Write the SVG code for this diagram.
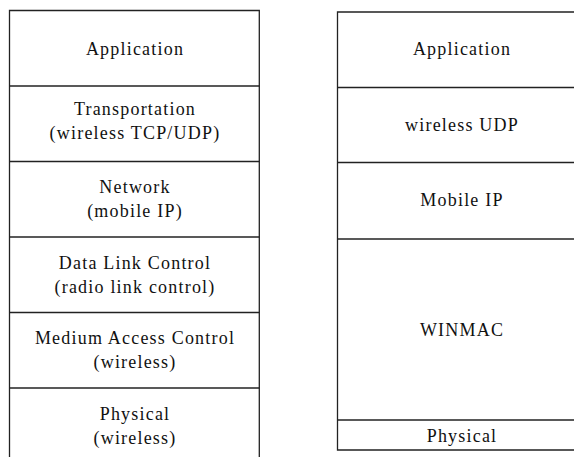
<svg xmlns="http://www.w3.org/2000/svg" width="574" height="457" viewBox="0 0 574 457">
<style>
.b{fill:none;stroke:#222;stroke-width:1.3}
.t{font-size:18px;letter-spacing:1.2px;fill:#111;text-anchor:middle}
</style>
<rect width="574" height="457" fill="#fff"/>
<g font-family="'Liberation Serif', 'Times New Roman', 'DejaVu Serif', serif">
<g id="left-stack">
<path class="b" d="M9.5 457V10.5H259.3V457"/>
<g id="l-app"><line class="b" x1="9.5" y1="86" x2="259.3" y2="86"/><text class="t" x="135" y="55">Application</text></g>
<g id="l-transport"><line class="b" x1="9.5" y1="161.5" x2="259.3" y2="161.5"/><text class="t" x="135" y="115">Transportation</text><text class="t" x="135" y="139">(wireless TCP/UDP)</text></g>
<g id="l-network"><line class="b" x1="9.5" y1="237" x2="259.3" y2="237"/><text class="t" x="135" y="193">Network</text><text class="t" x="135" y="217">(mobile IP)</text></g>
<g id="l-dlc"><line class="b" x1="9.5" y1="312.5" x2="259.3" y2="312.5"/><text class="t" x="135" y="269">Data Link Control</text><text class="t" x="135" y="293">(radio link control)</text></g>
<g id="l-mac"><line class="b" x1="9.5" y1="388" x2="259.3" y2="388"/><text class="t" x="135" y="344">Medium Access Control</text><text class="t" x="135" y="368">(wireless)</text></g>
<g id="l-phy"><text class="t" x="135" y="420">Physical</text><text class="t" x="135" y="444">(wireless)</text></g>
</g>
<g id="right-stack">
<path class="b" d="M580 12H337.5V450H580"/>
<g id="r-app"><line class="b" x1="337.5" y1="87.5" x2="580" y2="87.5"/><text class="t" x="462" y="55">Application</text></g>
<g id="r-udp"><line class="b" x1="337.5" y1="162.5" x2="580" y2="162.5"/><text class="t" x="462" y="131">wireless UDP</text></g>
<g id="r-ip"><line class="b" x1="337.5" y1="239" x2="580" y2="239"/><text class="t" x="462" y="206">Mobile IP</text></g>
<g id="r-winmac"><line class="b" x1="337.5" y1="420" x2="580" y2="420"/><text class="t" x="462" y="336">WINMAC</text></g>
<g id="r-phy"><text class="t" x="462" y="442">Physical</text></g>
</g>
</g>
<g id="connectors"/>
</svg>
